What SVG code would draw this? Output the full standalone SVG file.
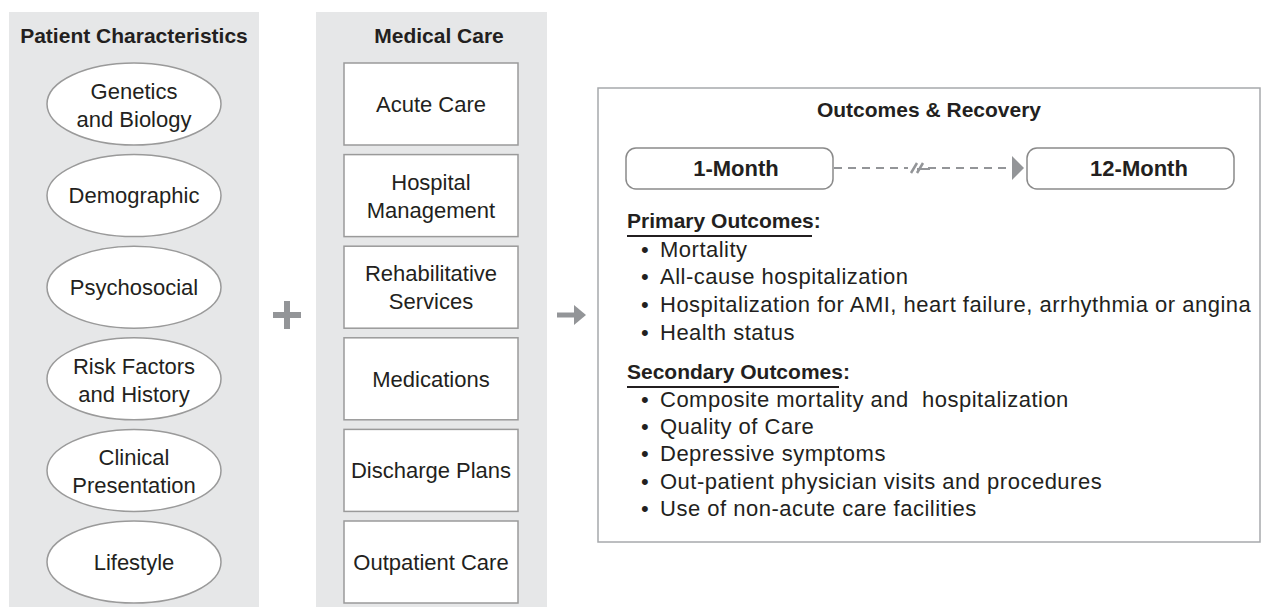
<svg xmlns="http://www.w3.org/2000/svg" width="1269" height="607" viewBox="0 0 1269 607">
<style>
text{font-family:"Liberation Sans",Arial,sans-serif;fill:#231f20}
.t{font-size:22px;text-anchor:middle}
.h{font-size:21px;font-weight:bold;text-anchor:middle}
.p{font-size:22px;font-weight:bold;text-anchor:middle}
.b{font-size:21px;font-weight:bold}
.l{font-size:22px;letter-spacing:0.5px}
.panel{fill:#e6e7e8}
.ell{fill:#fff;stroke:#9a9a9a;stroke-width:1.5}
.box{fill:#fff;stroke:#9a9a9a;stroke-width:1.5}
.pill{fill:#fff;stroke:#8a8a8a;stroke-width:1.5}
</style>
<defs>
<marker id="tri" markerWidth="12" markerHeight="24" refX="0" refY="12" orient="auto" markerUnits="userSpaceOnUse"><path d="M0,0 L12,12 L0,24 Z" fill="#939598"/></marker>
</defs>
<rect class="panel" x="9" y="12" width="250" height="595"/>
<rect class="panel" x="316" y="12" width="231" height="595"/>
<text class="h" x="134" y="43">Patient Characteristics</text>
<text class="h" x="439" y="43">Medical Care</text>
<g id="genetics"><ellipse class="ell" cx="134" cy="104" rx="87" ry="41"/><text class="t" x="134" y="99">Genetics</text><text class="t" x="134" y="127">and Biology</text></g>
<g id="demographic"><ellipse class="ell" cx="134" cy="195.6" rx="87" ry="41"/><text class="t" x="134" y="203">Demographic</text></g>
<g id="psychosocial"><ellipse class="ell" cx="134" cy="287.2" rx="87" ry="41"/><text class="t" x="134" y="295">Psychosocial</text></g>
<g id="risk"><ellipse class="ell" cx="134" cy="378.8" rx="87" ry="41"/><text class="t" x="134" y="374">Risk Factors</text><text class="t" x="134" y="402">and History</text></g>
<g id="clinical"><ellipse class="ell" cx="134" cy="470.4" rx="87" ry="41"/><text class="t" x="134" y="465">Clinical</text><text class="t" x="134" y="493">Presentation</text></g>
<g id="lifestyle"><ellipse class="ell" cx="134" cy="562" rx="87" ry="41"/><text class="t" x="134" y="570">Lifestyle</text></g>
<g id="acute"><rect class="box" x="344" y="63" width="174" height="82"/><text class="t" x="431" y="112">Acute Care</text></g>
<g id="hospital"><rect class="box" x="344" y="154.6" width="174" height="82"/><text class="t" x="431" y="190">Hospital</text><text class="t" x="431" y="218">Management</text></g>
<g id="rehab"><rect class="box" x="344" y="246.2" width="174" height="82"/><text class="t" x="431" y="281">Rehabilitative</text><text class="t" x="431" y="309">Services</text></g>
<g id="meds"><rect class="box" x="344" y="337.8" width="174" height="82"/><text class="t" x="431" y="387">Medications</text></g>
<g id="discharge"><rect class="box" x="344" y="429.4" width="174" height="82"/><text class="t" x="431" y="478">Discharge Plans</text></g>
<g id="outpatient"><rect class="box" x="344" y="521" width="174" height="82"/><text class="t" x="431" y="570">Outpatient Care</text></g>
<g id="plus"><path d="M273,315 H301 M287,301 V329" stroke="#939598" stroke-width="6"/></g>
<g id="outcomes">
<rect x="598" y="88" width="662" height="454" fill="#fff" stroke="#a7a9ac" stroke-width="1.5"/>
<text class="h" x="929" y="117">Outcomes &amp; Recovery</text>
<g id="m1"><rect class="pill" x="626" y="148" width="207" height="41" rx="10"/><text class="p" x="736" y="176">1-Month</text></g>
<g id="m12"><rect class="pill" x="1027" y="148" width="207" height="41" rx="10"/><text class="p" x="1139" y="176">12-Month</text></g>
<text class="b" x="627" y="228">Primary Outcomes:</text>
<line x1="627" y1="236" x2="812" y2="236" stroke="#231f20" stroke-width="2"/>
<g class="l">
<text x="641" y="257"><tspan>•</tspan><tspan x="660">Mortality</tspan></text>
<text x="641" y="284"><tspan>•</tspan><tspan x="660">All-cause hospitalization</tspan></text>
<text x="641" y="312"><tspan>•</tspan><tspan x="660">Hospitalization for AMI, heart failure, arrhythmia or angina</tspan></text>
<text x="641" y="340"><tspan>•</tspan><tspan x="660">Health status</tspan></text>
</g>
<text class="b" x="627" y="379">Secondary Outcomes:</text>
<line x1="627" y1="387" x2="839" y2="387" stroke="#231f20" stroke-width="2"/>
<g class="l">
<text x="641" y="407" xml:space="preserve" style="white-space:pre"><tspan>•</tspan><tspan x="660">Composite mortality and  hospitalization</tspan></text>
<text x="641" y="434"><tspan>•</tspan><tspan x="660">Quality of Care</tspan></text>
<text x="641" y="461"><tspan>•</tspan><tspan x="660">Depressive symptoms</tspan></text>
<text x="641" y="489"><tspan>•</tspan><tspan x="660">Out-patient physician visits and procedures</tspan></text>
<text x="641" y="516"><tspan>•</tspan><tspan x="660">Use of non-acute care facilities</tspan></text>
</g>
</g>
<g id="connectors">
<path d="M557,315 H575" stroke="#939598" stroke-width="5"/>
<path d="M574,305 L586,315 L574,325 Z" fill="#939598"/>
<path d="M834,168 H908 M928,168 H1012" stroke="#939598" stroke-width="2" stroke-dasharray="8,6" fill="none" marker-end="url(#tri)"/>
<path d="M911,173 L917,163 M917,173 L923,163" stroke="#939598" stroke-width="2.5"/>
<path d="M917,169 H930" stroke="#939598" stroke-width="2"/>
</g>
</svg>
